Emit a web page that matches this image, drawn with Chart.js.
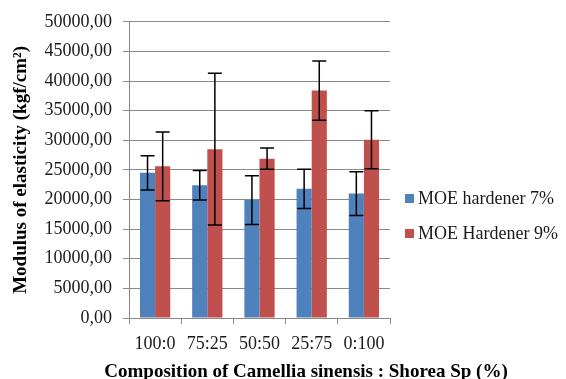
<!DOCTYPE html>
<html>
<head>
<meta charset="utf-8">
<script src="https://cdn.jsdelivr.net/npm/chart.js@4/dist/chart.umd.min.js"></script>
<style>
  html, body { margin: 0; padding: 0; background: #fff; }
  #wrap { position: relative; width: 566px; height: 379px; }
  #legend { position: absolute; left: 405px; top: 186px; font-family: 'Liberation Serif', serif; font-size: 18px; color: #1a1a1a; }
  .item { display: flex; align-items: center; height: 24px; margin-bottom: 11px; white-space: nowrap; }
  .sw { width: 9px; height: 9px; margin-right: 4px; }
  #xtitle { position: absolute; left: 0; width: 612px; top: 360px; text-align: center; font-family: 'Liberation Serif', serif; font-weight: bold; font-size: 19px; line-height: 22px; color: #000; white-space: nowrap; }
</style>
</head>
<body>
<div id="wrap">
  <canvas id="c" width="566" height="379"></canvas>
  <div id="legend"></div>
  <div id="xtitle"></div>
</div>
<script>
const categories = ['100:0', '75:25', '50:50', '25:75', '0:100'];
const seriesNames = ['MOE hardener 7%', 'MOE Hardener 9%'];
const moe7 = [24500, 22400, 19900, 21800, 21000];
const moe7Err = [2900, 2500, 4100, 3300, 3700];
const moe9 = [25600, 28500, 26900, 38400, 30100];
const moe9Err = [5800, 12800, 1800, 5000, 4900];
const xTitle = 'Composition of Camellia sinensis : Shorea Sp (%)';
const yTitle = 'Modulus of elasticity (kgf/cm²)';
const colors = ['#4f81bd', '#c0504d'];
const errors = [moe7Err, moe9Err];

const errorBars = {
  id: 'errorBars',
  afterDatasetsDraw(chart) {
    const ctx = chart.ctx;
    const yScale = chart.scales.y;
    ctx.save();
    ctx.strokeStyle = '#000';
    ctx.lineWidth = 1.5;
    chart.data.datasets.forEach((ds, di) => {
      const meta = chart.getDatasetMeta(di);
      meta.data.forEach((bar, i) => {
        const v = ds.data[i], e = errors[di][i];
        const x = bar.x;
        const yt = yScale.getPixelForValue(v + e);
        const yb = yScale.getPixelForValue(v - e);
        const hw = 7;
        ctx.beginPath();
        ctx.moveTo(x, yt); ctx.lineTo(x, yb);
        ctx.moveTo(x - hw, yt); ctx.lineTo(x + hw, yt);
        ctx.moveTo(x - hw, yb); ctx.lineTo(x + hw, yb);
        ctx.stroke();
      });
    });
    ctx.restore();
  }
};

const chart = new Chart(document.getElementById('c'), {
  type: 'bar',
  data: {
    labels: categories,
    datasets: [
      { label: seriesNames[0], data: moe7, backgroundColor: colors[0] },
      { label: seriesNames[1], data: moe9, backgroundColor: colors[1] }
    ]
  },
  options: {
    responsive: false,
    animation: false,
    layout: { padding: { left: 0, right: 176, top: 19, bottom: 0 } },
    plugins: { legend: { display: false }, tooltip: { enabled: false } },
    datasets: { bar: { categoryPercentage: 0.58, barPercentage: 1.0 } },
    scales: {
      x: {
        grid: { display: true, drawOnChartArea: false, offset: true, color: '#888', tickLength: 6 },
        border: { color: '#888' },
        ticks: { color: '#1a1a1a', font: { family: 'Liberation Serif', size: 18 }, padding: 9, maxRotation: 0 },
        afterFit(s) { s.height = 61; }
      },
      y: {
        min: 0, max: 50000,
        ticks: { stepSize: 5000, color: '#1a1a1a', font: { family: 'Liberation Serif', size: 18 }, padding: 11,
                 callback: v => v.toFixed(2).replace('.', ',') },
        grid: { color: '#8a8a8a', tickLength: 6 },
        border: { color: '#888' },
        title: { display: true, text: yTitle, color: '#000',
                 font: { family: 'Liberation Serif', size: 19, weight: 'bold' }, padding: { top: 10, bottom: 0 } },
        afterFit(s) { s.width = 129; }
      }
    }
  },
  plugins: [errorBars]
});

document.getElementById('xtitle').textContent = xTitle;
const lg = document.getElementById('legend');
seriesNames.forEach((n, i) => {
  const d = document.createElement('div');
  d.className = 'item';
  d.innerHTML = '<span class="sw" style="background:' + colors[i] + '"></span><span>' + n + '</span>';
  lg.appendChild(d);
});
</script>
</body>
</html>
